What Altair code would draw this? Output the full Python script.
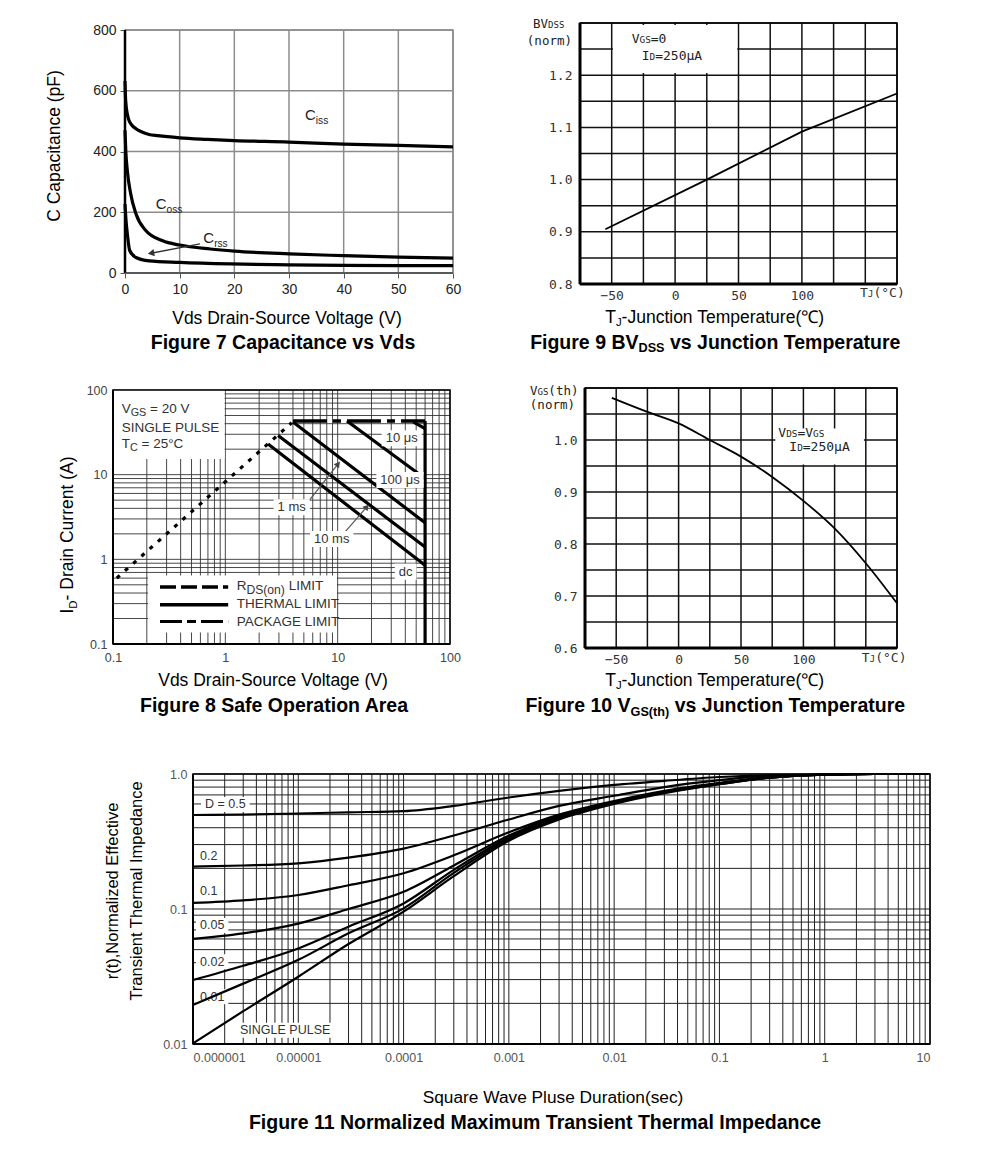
import altair as alt
import pandas as pd

SANS = "Liberation Sans"
MONO = "DejaVu Sans Mono"

# ---------------- Figure 7 : capacitance ----------------
ciss_v = [0, 0.12, 0.43, 0.74, 1.2, 2, 3, 4.4, 6, 10, 15, 20, 30, 40, 50, 60]
ciss_c = [632, 568, 523, 502, 488, 475, 465, 456, 452, 445, 440, 436, 431, 424, 420, 415]
coss_v = [0, 0.15, 0.43, 1.05, 2, 3.8, 6.9, 10, 15.6, 20, 30, 40, 50, 60]
coss_c = [470, 400, 336, 260, 195, 140, 106, 92, 79, 72, 63, 57, 52, 49]
crss_v = [0, 0.2, 0.43, 0.86, 2, 4.4, 10, 19.3, 30, 40, 50, 60]
crss_c = [227, 170, 129, 74, 51, 40, 35, 30, 27, 25, 24, 24]
cap_xticks = [0, 10, 20, 30, 40, 50, 60]
cap_yticks = [0, 200, 400, 600, 800]
cap_arrow_v = [13.7, 4.76]
cap_arrow_c = [96, 65]

# ---------------- Figure 9 : BVDSS ----------------
bv_tj = [-55, 25, 100, 175]
bv_n = [0.905, 1.0, 1.092, 1.165]
tj_grid = [-75, -50, -25, 0, 25, 50, 75, 100, 125, 150, 175]
tj_lab_v = [-50, 0, 50, 100]
tj_lab_t = ["\u221250", "0", "50", "100"]
bv_grid = [0.8, 0.85, 0.9, 0.95, 1.0, 1.05, 1.1, 1.15, 1.2, 1.25, 1.3]
bv_lab_v = [0.8, 0.9, 1.0, 1.1, 1.2]
bv_lab_t = ["0.8", "0.9", "1.0", "1.1", "1.2"]

# ---------------- Figure 10 : VGS(th) ----------------
vth_tj = [-53.5, -25, 0, 25, 50, 75, 100, 125, 150, 175]
vth_n = [1.081, 1.054, 1.032, 1.0, 0.968, 0.929, 0.883, 0.830, 0.763, 0.686]
vth_grid = [0.6, 0.65, 0.7, 0.75, 0.8, 0.85, 0.9, 0.95, 1.0, 1.05, 1.1]
vth_lab_v = [0.6, 0.7, 0.8, 0.9, 1.0]
vth_lab_t = ["0.6", "0.7", "0.8", "0.9", "1.0"]

# ---------------- Figure 8 : SOA ----------------
soa_rds_v = [0.108, 3.9]
soa_rds_i = [0.6, 41]
soa_pkg_v = [4.0, 60]
soa_pkg_i = [43, 43]
soa_lines = {
    "10us": ([12.1, 60], [43, 9.0]),
    "100us": ([4.0, 60], [42, 2.7]),
    "1ms": ([2.95, 60], [29, 1.4]),
    "10ms": ([2.4, 60], [23, 0.85]),
    "edge": ([47, 60], [42, 35]),
    "dc": ([60, 60], [43, 0.1]),
}
soa_decades = [0.1, 1, 10, 100]
soa_dec_lab = ["0.1", "1", "10", "100"]
soa_arrows = [([5.3, 10.1], [4.56, 13.4], 38), ([11.6, 18.2], [2.1, 4.17], 41)]

# ---------------- Figure 11 : transient thermal impedance ----------------
zt_t = [1e-6, 3e-6, 1e-5, 3e-5, 1e-4, 3e-4, 1e-3, 3e-3, 1e-2, 3e-2, 0.1, 0.3, 1, 3, 10]
zt_curves = {
    "0.5": [0.497, 0.50, 0.51, 0.52, 0.53, 0.58, 0.67, 0.75, 0.83, 0.89, 0.95, 0.98, 0.99, 1.0, 1.0],
    "0.2": [0.206, 0.21, 0.218, 0.24, 0.28, 0.35, 0.46, 0.58, 0.69, 0.80, 0.90, 0.97, 0.99, 1.0, 1.0],
    "0.1": [0.111, 0.116, 0.127, 0.15, 0.184, 0.25, 0.37, 0.50, 0.63, 0.75, 0.86, 0.95, 0.99, 1.0, 1.0],
    "0.05": [0.060, 0.066, 0.078, 0.10, 0.134, 0.21, 0.35, 0.49, 0.62, 0.74, 0.85, 0.94, 0.99, 1.0, 1.0],
    "0.02": [0.0298, 0.038, 0.051, 0.074, 0.110, 0.195, 0.34, 0.48, 0.61, 0.73, 0.85, 0.94, 0.99, 1.0, 1.0],
    "0.01": [0.0195, 0.028, 0.042, 0.066, 0.101, 0.185, 0.33, 0.47, 0.61, 0.73, 0.84, 0.94, 0.99, 1.0, 1.0],
    "single": [0.0101, 0.0175, 0.0315, 0.055, 0.0955, 0.175, 0.32, 0.46, 0.60, 0.72, 0.84, 0.94, 0.99, 1.0, 1.0],
}
zt_xdec = [1e-6, 1e-5, 1e-4, 1e-3, 1e-2, 1e-1, 1, 10]
zt_xlab = ["0.000001", "0.00001", "0.0001", "0.001", "0.01", "0.1", "1", "10"]
zt_ydec = [0.01, 0.1, 1]
zt_ylab = ["0.01", "0.1", "1.0"]

# ---------------- helpers ----------------
ONE = pd.DataFrame({"k": [0]})
REG = {" ": 278, "(": 333, ")": 333, ",": 278, "-": 333, ".": 278, "=": 584, "°": 400, "μ": 576, "℃": 1000,
       "A": 667, "B": 667, "C": 722, "D": 722, "E": 667, "F": 611, "G": 778, "H": 722, "I": 278, "J": 500,
       "K": 667, "L": 556, "M": 833, "N": 722, "O": 778, "P": 667, "R": 722, "S": 667, "T": 611, "U": 722,
       "V": 667, "W": 944, "a": 556, "c": 500, "d": 556, "e": 556, "f": 278, "g": 556, "h": 556, "i": 222,
       "l": 222, "m": 833, "n": 556, "o": 556, "p": 556, "q": 556, "r": 333, "s": 500, "t": 278, "u": 556,
       "v": 500, "x": 500, "z": 500}
BLD = {" ": 278, "(": 333, ")": 333, "-": 333, "A": 722, "B": 722, "C": 722, "D": 722, "E": 667, "F": 611,
       "G": 778, "I": 278, "J": 556, "M": 833, "N": 722, "O": 778, "S": 667, "T": 611, "V": 667, "a": 556,
       "c": 556, "d": 611, "e": 556, "f": 333, "g": 611, "h": 611, "i": 278, "l": 278, "m": 889, "n": 611,
       "o": 611, "p": 611, "r": 389, "s": 556, "t": 333, "u": 611, "v": 556, "x": 556, "z": 500}


def tw(s, size, bold=False, mono=False):
    if mono:
        return len(s) * 0.602 * size
    tab = BLD if bold else REG
    return sum(tab.get(c, 556) for c in s) / 1000.0 * size


def lab_expr(vals, labels):
    e = "''"
    for v, l in zip(vals, labels):
        tol = 1e-9 + abs(v) * 1e-6
        e = f"abs(datum.value - ({v!r})) < {tol!r} ? '{l}' : ({e})"
    return e


def log_grid(k0, k1):
    return [m * 10.0 ** k for k in range(k0, k1) for m in range(1, 10)] + [10.0 ** k1]


class Panel:
    """One figure: a tile (view) of size TW x TH whose plot box starts at (ox, oy) inside it.
    The scales' ranges place the plot box; axes are moved onto it with a negative offset."""

    def __init__(self, TW, TH, ox, oy, pw, ph, xdom, ydom, xlog, ylog, xaxis, yaxis):
        self.TW, self.TH, self.ox, self.oy, self.pw, self.ph = TW, TH, ox, oy, pw, ph
        self.xdom, self.ydom = xdom, ydom
        self.xs = alt.Scale(type="log" if xlog else "linear", domain=xdom, nice=False,
                            range=[ox, ox + pw], **({} if xlog else {"zero": False}))
        self.ys = alt.Scale(type="log" if ylog else "linear", domain=ydom, nice=False,
                            range=[oy + ph, oy], **({} if ylog else {"zero": False}))
        self.ax = alt.Axis(offset=-(TH - oy - ph), **xaxis)
        self.ay = alt.Axis(offset=-ox, **yaxis)
        self.layers = []

    def X(self, f="x"):
        return alt.X(f"{f}:Q", scale=self.xs, axis=self.ax)

    def Y(self, f="y"):
        return alt.Y(f"{f}:Q", scale=self.ys, axis=self.ay)

    def add(self, *charts):
        self.layers += list(charts)

    # ---- data-space marks ----
    def segs(self, x1, x2, y1, y2, color, width, dash=None):
        df = pd.DataFrame({"x": x1, "x2": x2, "y": y1, "y2": y2})
        kw = dict(color=color, strokeWidth=width)
        if dash is not None:
            kw["strokeDash"] = dash
        self.add(alt.Chart(df).mark_rule(**kw).encode(x=self.X(), x2="x2:Q", y=self.Y(), y2="y2:Q"))

    def grid(self, xvals, yvals, color, width):
        x0, x1 = self.xdom
        y0, y1 = self.ydom
        xs1 = list(xvals) + [x0] * len(yvals)
        xs2 = list(xvals) + [x1] * len(yvals)
        ys1 = [y0] * len(xvals) + list(yvals)
        ys2 = [y1] * len(xvals) + list(yvals)
        self.segs(xs1, xs2, ys1, ys2, color, width)

    def frame(self, color, width):
        df = pd.DataFrame({"x": [self.xdom[0]], "x2": [self.xdom[1]], "y": [self.ydom[0]], "y2": [self.ydom[1]]})
        self.add(alt.Chart(df).mark_rect(fillOpacity=0, stroke=color, strokeWidth=width).encode(
            x=self.X(), x2="x2:Q", y=self.Y(), y2="y2:Q"))

    def rect(self, x1, x2, y1, y2, color="white"):
        df = pd.DataFrame({"x": [x1], "x2": [x2], "y": [y1], "y2": [y2]})
        self.add(alt.Chart(df).mark_rect(color=color).encode(
            x=self.X(), x2="x2:Q", y=self.Y(), y2="y2:Q"))

    def rule(self, x1, x2, y1, y2, color, width):
        self.segs([x1], [x2], [y1], [y2], color, width)

    def line(self, xv, yv, width=2, dash=None, color="black", series=None, interp="linear"):
        d = {"x": xv, "y": yv}
        if series is not None:
            d["s"] = series
        kw = dict(color=color, strokeWidth=width, interpolate=interp)
        if dash is not None:
            kw["strokeDash"] = dash
        enc = dict(x=self.X(), y=self.Y())
        if series is not None:
            enc["detail"] = alt.Detail("s:N")
        self.add(alt.Chart(pd.DataFrame(d)).mark_line(**kw).encode(**enc))

    def head(self, xv, yv, angle, color="#333", size=55):
        self.add(alt.Chart(pd.DataFrame({"x": [xv], "y": [yv]})).mark_point(
            shape="triangle-up", filled=True, size=size, color=color, angle=angle, opacity=1
        ).encode(x=self.X(), y=self.Y()))

    # ---- typesetting (pixel offsets relative to the plot box origin) ----
    def text(self, x, y, s, size, bold=False, font=SANS, color="black", align="left",
             baseline="alphabetic", angle=0):
        self.add(alt.Chart(ONE).mark_text(
            text=s, fontSize=size, fontWeight="bold" if bold else "normal", font=font,
            color=color, align=align, baseline=baseline, angle=angle
        ).encode(x=alt.value(x + self.ox), y=alt.value(y + self.oy)))

    def rich(self, x, y, pieces, size, bold=False, mono=False, color="black", center=False, angle=0):
        font = MONO if mono else SANS
        widths = [tw(t, size * sc, bold, mono) for t, sc, dy in pieces]
        pos = -sum(widths) / 2 if center else 0
        for (t, sc, dy), w in zip(pieces, widths):
            lead = len(t) - len(t.lstrip(" "))
            p = pos + tw(" " * lead, size * sc, bold, mono)
            s = t.strip(" ")
            if angle == 0:
                self.text(x + p, y + dy, s, size * sc, bold, font, color)
            else:
                self.text(x + dy, y - p, s, size * sc, bold, font, color, angle=270)
            pos += w

    def prect(self, x1, x2, y1, y2, color="white"):
        self.add(alt.Chart(ONE).mark_rect(color=color).encode(
            x=alt.value(x1 + self.ox), x2=alt.value(x2 + self.ox),
            y=alt.value(y1 + self.oy), y2=alt.value(y2 + self.oy)))

    def boxed(self, x, y, s, size, color="#333", center=True, pad=4):
        w = tw(s, size)
        if center:
            x0 = x - w / 2
            self.prect(x0 - pad, x0 + w + pad, y - size * 0.62, y + size * 0.62)
            self.text(x, y, s, size, color=color, align="center", baseline="middle")
        else:
            self.prect(x - pad, x + w + pad, y - size * 0.9, y + size * 0.3)
            self.text(x, y, s, size, color=color)

    def chart(self):
        return alt.layer(*self.layers).properties(width=self.TW, height=self.TH)


def axis_kw(values, font=SANS, size=13, color="#333", pad=5, ticks=False, tick_size=5, expr=None, flush=False):
    kw = dict(title=None, values=values, grid=False, domain=False, ticks=ticks, labelFont=font,
              labelFontSize=size, labelColor=color, labelPadding=pad, labelFlush=flush, labelOverlap=False)
    if ticks:
        kw.update(tickSize=tick_size, tickColor="#555", tickWidth=1)
    if expr is not None:
        kw["labelExpr"] = expr
    return kw


# tiles: column 1 x 8..495, column 2 x 495..975 ; rows y 8..362, 362..725, 725..1150
# ================= Figure 7 =================
p7 = Panel(487, 354, 117, 22, 328, 243, [0, 60], [0, 800], False, False,
           axis_kw(cap_xticks, size=14, color="#222", pad=4, ticks=True),
           axis_kw(cap_yticks, size=14, color="#222", pad=4, ticks=True))
cap_x = ciss_v + coss_v + crss_v
cap_y = ciss_c + coss_c + crss_c
cap_s = ["Ciss"] * len(ciss_v) + ["Coss"] * len(coss_v) + ["Crss"] * len(crss_v)
p7.grid(cap_xticks, cap_yticks, "#8c8c8c", 1.5)
p7.frame("#8c8c8c", 1.5)
p7.line(cap_x, cap_y, width=3.2, series=cap_s, interp="monotone")
p7.rule(0, 0, 0, 800, "black", 2.5)
p7.rule(0, 60, 0, 0, "#444", 1.5)
p7.line(cap_arrow_v, cap_arrow_c, width=1.3, color="#333")
p7.head(cap_arrow_v[1], cap_arrow_c[1], 259)
p7.rich(180, 90, [("C", 1, 0), ("iss", 0.68, 4)], 15, color="#222")
p7.rich(30.7, 179, [("C", 1, 0), ("oss", 0.68, 4)], 15, color="#222")
p7.rich(78.3, 212.7, [("C", 1, 0), ("rss", 0.68, 4)], 15, color="#222")
p7.text(-70, 116, "C Capacitance (pF)", 17.5, align="center", baseline="middle", angle=270)
p7.text(162, 294, "Vds Drain-Source Voltage (V)", 17.5, align="center")
p7.text(158, 319, "Figure 7 Capacitance vs Vds", 19.5, bold=True, align="center")
fig7 = p7.chart()

# ================= Figure 9 =================
p9 = Panel(480, 354, 85, 15, 317, 261, [-75, 175], [0.8, 1.3], False, False,
           axis_kw(tj_lab_v, font=MONO, size=13, color="#333", pad=5, expr=lab_expr(tj_lab_v, tj_lab_t)),
           axis_kw(bv_lab_v, font=MONO, size=13, color="#333", pad=8, expr=lab_expr(bv_lab_v, bv_lab_t)))
p9.grid(tj_grid, bv_grid, "#111", 1.5)
p9.rect(-49, 49, 1.204, 1.296)
p9.frame("black", 1.5)
p9.line(bv_tj, bv_n, width=1.8)
p9.rule(-75, -75, 0.8, 1.3, "black", 3)
p9.rule(-75, 175, 0.8, 0.8, "black", 3)
p9.rich(-47, 5, [("BV", 1, 0), ("DSS", 0.72, 0)], 12.5, mono=True, color="#222")
p9.text(-8, 22, "(norm)", 12.5, font=MONO, color="#222", align="right")
p9.rich(280, 274, [("T", 1, 0), ("J", 0.72, 0), ("(°C)", 1, 0)], 13, mono=True, color="#333")
p9.rich(51.7, 20.3, [("V", 1, 0), ("GS", 0.72, 0), ("=0", 1, 0)], 13, mono=True, color="#222")
p9.rich(61.7, 37, [("I", 1, 0), ("D", 0.72, 0), ("=250μA", 1, 0)], 13, mono=True, color="#222")
p9.rich(136, 300, [("T", 1, 0), ("J", 0.65, 3), ("-Junction Temperature(℃)", 1, 0)], 17.5, center=True)
p9.rich(136, 326, [("Figure 9 BV", 1, 0), ("DSS", 0.65, 3), (" vs Junction Temperature", 1, 0)],
        19.5, bold=True, center=True)
fig9 = p9.chart()

# ================= Figure 8 =================
soa_grid = log_grid(-1, 2)
p8 = Panel(487, 363, 105, 28, 337, 254, [0.1, 100], [0.1, 100], True, True,
           axis_kw(soa_decades, size=12.5, color="#444", pad=7, expr=lab_expr(soa_decades, soa_dec_lab)),
           axis_kw(soa_decades, size=12.5, color="#444", pad=6, expr=lab_expr(soa_decades, soa_dec_lab)))
th_x, th_y, th_s = [], [], []
for k, (xv, yv) in soa_lines.items():
    th_x += xv
    th_y += yv
    th_s += [k] * len(xv)
p8.grid(soa_grid, soa_grid, "#333", 0.9)
p8.rect(0.1, 0.985, 15.3, 100)
p8.rect(0.205, 9.85, 0.137, 0.646)
p8.frame("black", 1.5)
p8.line(soa_rds_v, soa_rds_i, width=3.2, dash=[4, 7])
p8.line(soa_pkg_v, soa_pkg_i, width=3.4, dash=[34, 6, 8, 6])
p8.line(th_x, th_y, width=3.2, series=th_s)
p8.rule(0.1, 0.1, 0.1, 100, "black", 2)
p8.rule(0.1, 100, 0.1, 0.1, "black", 2)
p8.line([0.262, 1.06], [0.47, 0.47], width=3.5, dash=[16, 5])
p8.line([0.262, 1.06], [0.29, 0.29], width=3.5)
p8.line([0.262, 1.06], [0.185, 0.185], width=3, dash=[22, 5, 9, 5])
for xv, yv, ang in soa_arrows:
    p8.line(xv, yv, width=1.2, color="#555")
    p8.head(xv[1], yv[1], ang, color="#444", size=45)
p8.boxed(288.7, 48.3, "10 μs", 13)
p8.boxed(287, 90, "100 μs", 13)
p8.boxed(178.7, 117.3, "1 ms", 13)
p8.boxed(218.7, 149, "10 ms", 13)
p8.boxed(292.7, 181.7, "dc", 13)
p8.rich(8.7, 23.3, [("V", 1, 0), ("GS", 0.8, 3), (" = 20 V", 1, 0)], 13.5, color="#333")
p8.text(8.7, 41.7, "SINGLE PULSE", 13.5, color="#333")
p8.rich(8.7, 58.3, [("T", 1, 0), ("C", 0.8, 3), (" = 25°C", 1, 0)], 13.5, color="#333")
p8.rich(123.7, 200, [("R", 1, 0), ("DS(on)", 0.9, 4), (" LIMIT", 1, 0)], 13.5, color="#333")
p8.text(123.7, 218.3, "THERMAL LIMIT", 13.5, color="#333")
p8.text(123.7, 235.7, "PACKAGE LIMIT", 13.5, color="#333")
p8.rich(-40, 145, [("I", 1, 0), ("D", 0.65, 4), ("- Drain Current (A)", 1, 0)], 17.5, center=True, angle=270)
p8.text(160, 296, "Vds Drain-Source Voltage (V)", 17.5, align="center")
p8.text(161, 322, "Figure 8 Safe Operation Area", 19.5, bold=True, align="center")
fig8 = p8.chart()

# ================= Figure 10 =================
p10 = Panel(480, 363, 90, 26, 312, 260, [-75, 175], [0.6, 1.1], False, False,
            axis_kw(tj_lab_v, font=MONO, size=13, color="#333", pad=5, expr=lab_expr(tj_lab_v, tj_lab_t)),
            axis_kw(vth_lab_v, font=MONO, size=13, color="#333", pad=8, expr=lab_expr(vth_lab_v, vth_lab_t)))
p10.grid(tj_grid, vth_grid, "#111", 1.5)
p10.rect(77.5, 148.5, 0.953, 1.022)
p10.frame("black", 1.5)
p10.line(vth_tj, vth_n, width=1.8, interp="monotone")
p10.rule(-75, -75, 0.6, 1.1, "black", 3)
p10.rule(-75, 175, 0.6, 0.6, "black", 3)
p10.rich(-55, 7, [("V", 1, 0), ("GS", 0.72, 0), ("(th)", 1, 0)], 12.5, mono=True, color="#222")
p10.text(-10, 21.3, "(norm)", 12.5, font=MONO, color="#222", align="right")
p10.rich(276.7, 273.7, [("T", 1, 0), ("J", 0.72, 0), ("(°C)", 1, 0)], 13, mono=True, color="#333")
p10.rich(193.3, 48.7, [("V", 1, 0), ("DS", 0.72, 0), ("=V", 1, 0), ("GS", 0.72, 0)], 13,
         mono=True, color="#222")
p10.rich(204.3, 63, [("I", 1, 0), ("D", 0.72, 0), ("=250μA", 1, 0)], 13, mono=True, color="#222")
p10.rich(131, 298, [("T", 1, 0), ("J", 0.65, 3), ("-Junction Temperature(℃)", 1, 0)], 17.5, center=True)
p10.rich(131, 324, [("Figure 10 V", 1, 0), ("GS(th)", 0.65, 4), (" vs Junction Temperature", 1, 0)],
         19.5, bold=True, center=True)
fig10 = p10.chart()

# ================= Figure 11 =================
p11 = Panel(967, 425, 185, 49, 737, 270, [1e-6, 10], [0.01, 1], True, True,
            axis_kw(zt_xdec, size=12.5, color="#555", pad=7, expr=lab_expr(zt_xdec, zt_xlab), flush=True),
            axis_kw(zt_ydec, size=12.5, color="#555", pad=6, expr=lab_expr(zt_ydec, zt_ylab)))
zx, zy, zs = [], [], []
for k, vals in zt_curves.items():
    zx += zt_t
    zy += vals
    zs += [k] * len(zt_t)
p11.grid(log_grid(-6, 1), log_grid(-2, 0), "#222", 1.0)
p11.boxed(12, 34.3, "D = 0.5", 12.5, center=False)
p11.boxed(7, 86, "0.2", 12.5, center=False)
p11.boxed(7, 121, "0.1", 12.5, center=False)
p11.boxed(7, 155.3, "0.05", 12.5, center=False)
p11.boxed(7, 191.5, "0.02", 12.5, center=False)
p11.boxed(7, 226.5, "0.01", 12.5, center=False)
p11.boxed(47, 260, "SINGLE PULSE", 12.5, center=False)
p11.frame("black", 1.5)
p11.line(zx, zy, width=2.2, series=zs, interp="monotone")
p11.rule(1e-6, 1e-6, 0.01, 1, "black", 2)
p11.rule(1e-6, 10, 0.01, 0.01, "black", 2.2)
p11.text(-80, 117, "r(t),Normalized Effective", 16.5, align="center", baseline="middle", angle=270)
p11.text(-56, 117, "Transient Thermal Impedance", 16.5, align="center", baseline="middle", angle=270)
p11.text(360, 329, "Square Wave Pluse Duration(sec)", 17.3, align="center")
p11.text(342, 355, "Figure 11 Normalized Maximum Transient Thermal Impedance", 19.5, bold=True, align="center")
fig11 = p11.chart()

row1 = alt.concat(fig7, fig9, columns=2, spacing=0)
row2 = alt.concat(fig8, fig10, columns=2, spacing=0)
chart = alt.concat(row1, row2, fig11, columns=1, spacing=0).properties(
    padding=0).configure_view(stroke=None)

chart.save("out.html", embed_options={"renderer": "svg", "actions": False})
